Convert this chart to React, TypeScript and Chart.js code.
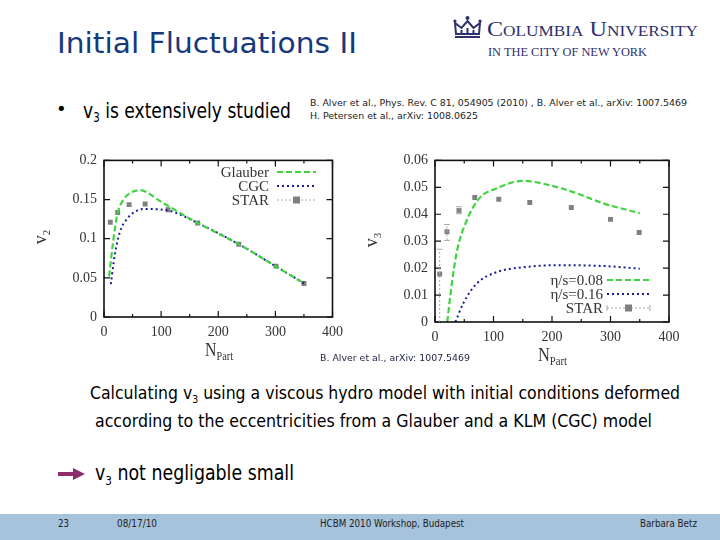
import React, { useEffect, useRef, useLayoutEffect } from "react";
import { Chart, registerables } from "chart.js";
Chart.register(...registerables);

// ---------- Left chart (v2 vs NPart) ----------
const v2GlauberX = [9, 16, 23, 34, 45, 63, 100, 164, 236, 300, 350];
const v2GlauberY = [0.052, 0.096, 0.13, 0.15, 0.158, 0.162, 0.147, 0.12, 0.093, 0.065, 0.043];
const v2CgcX = [12, 19, 28, 40, 51, 69, 112, 164, 236, 300, 350];
const v2CgcY = [0.042, 0.08, 0.109, 0.125, 0.133, 0.138, 0.136, 0.12, 0.093, 0.065, 0.043];
const v2StarX = [11, 24, 44, 72, 112, 164, 236, 301, 350];
const v2StarY = [0.121, 0.1335, 0.1435, 0.1444, 0.137, 0.12, 0.093, 0.065, 0.0427];
const v2Labels = ["Glauber", "CGC", "STAR"];

// ---------- Right chart (v3 vs NPart) ----------
const v3Eta008X = [21, 28, 37.6, 53.6, 76, 105, 150, 196, 242, 287, 350];
const v3Eta008Y = [0, 0.013, 0.0264, 0.0374, 0.046, 0.0496, 0.0524, 0.0508, 0.0478, 0.0441, 0.0404];
const v3Eta016X = [35, 48, 71, 105, 150, 207, 287, 350];
const v3Eta016Y = [0, 0.0068, 0.0142, 0.0185, 0.0203, 0.0211, 0.0208, 0.0198];
const v3StarX = [8, 20.5, 41, 68, 109, 162, 233, 300, 349];
const v3StarY = [0.0178, 0.0335, 0.0414, 0.0462, 0.0456, 0.0444, 0.0425, 0.0381, 0.0332];
const v3StarLo = [0, 0.0303, 0.0402, 0.0462, 0.0456, 0.0444, 0.0425, 0.0381, 0.0332];
const v3StarHi = [0.027, 0.0362, 0.0428, 0.0462, 0.0456, 0.0444, 0.0425, 0.0381, 0.0332];
const v3Labels = ["\u03B7/s=0.08", "\u03B7/s=0.16", "STAR"];

const xMax = 400;
const xStep = 50;
const xLabelStep = 100;

const GREEN = "#3fd43f";
const BLUE = "#1c1c96";
const GRAY = "#808080";
const SERIF = "'Liberation Serif', 'DejaVu Serif', serif";
const SANS = "'DejaVu Sans', sans-serif";

const pts = (xs: number[], ys: number[]) => xs.map((x, i) => ({ x, y: ys[i] }));

const framePlugin = {
  id: "frame",
  afterDatasetsDraw(chart: any) {
    const { ctx, chartArea: a, scales } = chart;
    ctx.save();
    ctx.strokeStyle = "#111";
    ctx.lineWidth = 1.2;
    scales.x.ticks.forEach((t: any) => {
      const px = scales.x.getPixelForValue(t.value);
      const len = t.value % xLabelStep === 0 ? 6 : 3;
      ctx.beginPath();
      ctx.moveTo(px, a.bottom);
      ctx.lineTo(px, a.bottom - len);
      ctx.moveTo(px, a.top);
      ctx.lineTo(px, a.top + len);
      ctx.stroke();
    });
    scales.y.ticks.forEach((t: any) => {
      const py = scales.y.getPixelForValue(t.value);
      ctx.beginPath();
      ctx.moveTo(a.left, py);
      ctx.lineTo(a.left + 6, py);
      ctx.moveTo(a.right, py);
      ctx.lineTo(a.right - 6, py);
      ctx.stroke();
    });
    ctx.lineWidth = 1.6;
    ctx.strokeRect(a.left, a.top, a.right - a.left, a.bottom - a.top);
    ctx.restore();
  },
};

const errorBarPlugin = {
  id: "errbars",
  afterDatasetsDraw(chart: any) {
    const { ctx, scales } = chart;
    chart.data.datasets.forEach((ds: any) => {
      if (!ds.errLo) return;
      ctx.save();
      ctx.strokeStyle = "#aaaaaa";
      ctx.lineWidth = 1;
      ctx.setLineDash([2, 2]);
      ds.data.forEach((p: any, i: number) => {
        const lo = ds.errLo[i];
        const hi = ds.errHi[i];
        if (hi - lo < 1e-6) return;
        const px = scales.x.getPixelForValue(p.x);
        const y0 = scales.y.getPixelForValue(lo);
        const y1 = scales.y.getPixelForValue(hi);
        ctx.beginPath();
        ctx.moveTo(px, y0);
        ctx.lineTo(px, y1);
        ctx.stroke();
        ctx.setLineDash([]);
        ctx.beginPath();
        ctx.moveTo(px - 3, y1);
        ctx.lineTo(px + 3, y1);
        if (lo > 0) {
          ctx.moveTo(px - 3, y0);
          ctx.lineTo(px + 3, y0);
        }
        ctx.stroke();
        ctx.setLineDash([2, 2]);
      });
      ctx.restore();
    });
  },
};

const keyPlugin = {
  id: "key",
  afterDraw(chart: any, _args: any, opts: any) {
    const { ctx } = chart;
    ctx.save();
    ctx.font = `15px ${SERIF}`;
    ctx.fillStyle = "#333";
    ctx.textAlign = "right";
    ctx.textBaseline = "middle";
    chart.data.datasets.forEach((ds: any, i: number) => {
      const y = opts.rows[i];
      ctx.fillText(ds.label, opts.textRight, y + 1);
      if (ds.showLine === false) {
        ctx.strokeStyle = "#aaaaaa";
        ctx.lineWidth = 1;
        ctx.setLineDash([2, 2]);
        ctx.beginPath();
        ctx.moveTo(opts.x0, y);
        ctx.lineTo(opts.x1, y);
        ctx.stroke();
        ctx.setLineDash([]);
        if (opts.caps) {
          ctx.beginPath();
          ctx.moveTo(opts.x0, y - 3);
          ctx.lineTo(opts.x0, y + 3);
          ctx.moveTo(opts.x1, y - 3);
          ctx.lineTo(opts.x1, y + 3);
          ctx.stroke();
        }
        ctx.fillStyle = GRAY;
        const mx = (opts.x0 + opts.x1) / 2;
        ctx.fillRect(mx - 3.5, y - 3.5, 7, 7);
        ctx.fillStyle = "#333";
      } else {
        ctx.strokeStyle = ds.borderColor;
        ctx.lineWidth = ds.borderWidth;
        ctx.setLineDash(ds.borderDash || []);
        ctx.beginPath();
        ctx.moveTo(opts.x0, y);
        ctx.lineTo(opts.x1, y);
        ctx.stroke();
        ctx.setLineDash([]);
      }
    });
    ctx.restore();
  },
};

function makeChart(
  canvas: HTMLCanvasElement,
  datasets: any[],
  yMax: number,
  yStep: number,
  geom: { top: number; right: number; yW: number; xH: number },
  key: any
) {
  return new Chart(canvas, {
    type: "line",
    data: { datasets },
    options: {
      animation: false,
      responsive: false,
      layout: { padding: { top: geom.top, right: geom.right, left: 0, bottom: 0 } },
      scales: {
        x: {
          type: "linear",
          min: 0,
          max: xMax,
          ticks: {
            stepSize: xStep,
            autoSkip: false,
            maxRotation: 0,
            padding: 7,
            color: "#333",
            font: { family: SERIF, size: 14 },
            callback: (v: any) => (v % xLabelStep === 0 ? String(v) : ""),
          },
          grid: { display: false, drawTicks: false },
          border: { display: false },
          afterFit: (s: any) => {
            s.height = geom.xH;
          },
        },
        y: {
          type: "linear",
          min: 0,
          max: yMax,
          ticks: {
            stepSize: yStep,
            padding: 7,
            color: "#333",
            font: { family: SERIF, size: 14 },
            callback: (v: any) => String(Math.round(v * 1000) / 1000),
          },
          grid: { display: false, drawTicks: false },
          border: { display: false },
          afterFit: (s: any) => {
            s.width = geom.yW;
          },
        },
      },
      plugins: {
        legend: { display: false },
        tooltip: { enabled: false },
        key,
      } as any,
    },
    plugins: [framePlugin, errorBarPlugin, keyPlugin],
  });
}

function LeftChart() {
  const ref = useRef<HTMLCanvasElement>(null);
  useEffect(() => {
    const ds = [
      { label: v2Labels[0], data: pts(v2GlauberX, v2GlauberY), borderColor: GREEN, borderWidth: 2.2, borderDash: [6, 3], pointRadius: 0, cubicInterpolationMode: "monotone", fill: false },
      { label: v2Labels[1], data: pts(v2CgcX, v2CgcY), borderColor: BLUE, borderWidth: 2, borderDash: [2, 3], pointRadius: 0, cubicInterpolationMode: "monotone", fill: false },
      { label: v2Labels[2], data: pts(v2StarX, v2StarY), showLine: false, pointStyle: "rect", pointRadius: 3.5, backgroundColor: GRAY, borderColor: GRAY, borderWidth: 0 },
    ];
    const c = makeChart(ref.current!, ds, 0.2, 0.05, { top: 12, right: 17, yW: 84, xH: 53 }, { textRight: 249, x0: 257, x1: 296, rows: [27, 41, 55] });
    return () => c.destroy();
  }, []);
  return <canvas ref={ref} width={330} height={225} style={{ position: "absolute", left: 20, top: 145 }} />;
}

function RightChart() {
  const ref = useRef<HTMLCanvasElement>(null);
  useEffect(() => {
    const ds = [
      { label: v3Labels[0], data: pts(v3Eta008X, v3Eta008Y), borderColor: GREEN, borderWidth: 2.2, borderDash: [6, 3], pointRadius: 0, cubicInterpolationMode: "monotone", fill: false },
      { label: v3Labels[1], data: pts(v3Eta016X, v3Eta016Y), borderColor: BLUE, borderWidth: 2, borderDash: [2, 3], pointRadius: 0, cubicInterpolationMode: "monotone", fill: false },
      { label: v3Labels[2], data: pts(v3StarX, v3StarY), errLo: v3StarLo, errHi: v3StarHi, showLine: false, pointStyle: "rect", pointRadius: 3.5, backgroundColor: GRAY, borderColor: GRAY, borderWidth: 0 },
    ];
    const c = makeChart(ref.current!, ds, 0.06, 0.01, { top: 13, right: 21, yW: 75, xH: 48 }, { textRight: 243, x0: 247, x1: 290, rows: [135, 149, 163], caps: true });
    return () => c.destroy();
  }, []);
  return <canvas ref={ref} width={330} height={225} style={{ position: "absolute", left: 360, top: 145 }} />;
}

function FitText(props: {
  left: number;
  baseline: number;
  size: number;
  width: number;
  family?: string;
  color?: string;
  smallCaps?: boolean;
  children: any;
}) {
  const ref = useRef<HTMLDivElement>(null);
  useLayoutEffect(() => {
    const el = ref.current;
    if (!el) return;
    el.style.transform = "none";
    const w = el.getBoundingClientRect().width;
    if (w > 0) el.style.transform = `scaleX(${props.width / w})`;
  });
  return (
    <div
      ref={ref}
      style={{
        position: "absolute",
        left: props.left,
        top: props.baseline - 0.84 * props.size,
        fontSize: props.size,
        lineHeight: 1,
        fontFamily: props.family || SANS,
        color: props.color || "#000",
        fontVariant: props.smallCaps ? "small-caps" : "normal",
        whiteSpace: "nowrap",
        transformOrigin: "left top",
        display: "inline-block",
      }}
    >
      {props.children}
    </div>
  );
}

const Sub = ({ children, size = "0.6em" }: any) => (
  <span style={{ fontSize: size, position: "relative", top: "0.35em" }}>{children}</span>
);

export default function App() {
  const navy = "#17397c";
  const logo = "#2d2f6e";
  return (
    <div style={{ position: "absolute", left: 0, top: 0, width: 720, height: 540, background: "#fff", overflow: "hidden" }}>
      <FitText left={57} baseline={53} size={29} width={300} color={navy}>Initial Fluctuations II</FitText>

      <svg style={{ position: "absolute", left: 453, top: 15 }} width={29} height={24} viewBox="0 0 29 24">
        <g fill="none" stroke={logo} strokeWidth={2}>
          <path d="M3 19 L2 8 L8.5 13 L14.5 6 L20.5 13 L27 8 L26 19 Z" />
          <line x1={2} y1={22} x2={27} y2={22} />
          <line x1={14.5} y1={13} x2={14.5} y2={19} />
          <line x1={8.5} y1={15} x2={8.5} y2={19} />
          <line x1={20.5} y1={15} x2={20.5} y2={19} />
        </g>
        <circle cx={14.5} cy={3} r={2} fill={logo} />
        <circle cx={2} cy={6} r={1.6} fill={logo} />
        <circle cx={27} cy={6} r={1.6} fill={logo} />
      </svg>
      <FitText left={487} baseline={37} size={21} width={211} family={SERIF} color={logo} smallCaps>Columbia University</FitText>
      <FitText left={488} baseline={56} size={12} width={159} family={SERIF} color={logo}>IN THE CITY OF NEW YORK</FitText>

      <div style={{ position: "absolute", left: 56, top: 100, fontSize: 18, lineHeight: 1, fontFamily: SANS }}>•</div>
      <FitText left={83} baseline={118} size={22} width={208}>
        v<Sub>3</Sub> is extensively studied
      </FitText>
      <FitText left={310} baseline={107} size={9} width={377} color="#222">
        B. Alver et al., Phys. Rev. C 81, 054905 (2010) , B. Alver et al., arXiv: 1007.5469
      </FitText>
      <FitText left={310} baseline={120} size={9} width={168} color="#222">
        H. Petersen et al., arXiv: 1008.0625
      </FitText>

      <LeftChart />
      <RightChart />

      <div style={{ position: "absolute", left: 40, top: 237, transform: "translate(-50%,-50%) rotate(-90deg)", fontFamily: SERIF, fontSize: 18, color: "#333", lineHeight: 1 }}>
        v<Sub>2</Sub>
      </div>
      <div style={{ position: "absolute", left: 371, top: 240, transform: "translate(-50%,-50%) rotate(-90deg)", fontFamily: SERIF, fontSize: 18, color: "#333", lineHeight: 1 }}>
        v<Sub>3</Sub>
      </div>
      <FitText left={205} baseline={356} size={18} width={28} family={SERIF} color="#333">
        N<Sub size="0.65em">Part</Sub>
      </FitText>
      <FitText left={538} baseline={361} size={18} width={29} family={SERIF} color="#333">
        N<Sub size="0.65em">Part</Sub>
      </FitText>
      <FitText left={320} baseline={362} size={9} width={150} color="#1c2040">
        B. Alver et al., arXiv: 1007.5469
      </FitText>

      <FitText left={90} baseline={399} size={18} width={590}>
        Calculating v<Sub>3</Sub> using a viscous hydro model with initial conditions deformed
      </FitText>
      <FitText left={95} baseline={427} size={18} width={557}>
        according to the eccentricities from a Glauber and a KLM (CGC) model
      </FitText>

      <svg style={{ position: "absolute", left: 58, top: 467 }} width={27} height={14} viewBox="0 0 27 14">
        <line x1={0} y1={7} x2={17} y2={7} stroke="#8c2e6a" strokeWidth={4} />
        <polygon points="15,1 27,7 15,13" fill="#8c2e6a" />
      </svg>
      <FitText left={95} baseline={481} size={21} width={199}>
        v<Sub>3</Sub> not negligable small
      </FitText>

      <div style={{ position: "absolute", left: 0, top: 514, width: 720, height: 26, background: "#a6c3dc" }} />
      <FitText left={58} baseline={527} size={10} width={11} color="#222">23</FitText>
      <FitText left={117} baseline={527} size={10} width={40} color="#222">08/17/10</FitText>
      <FitText left={320} baseline={527} size={10} width={144} color="#222">HCBM 2010 Workshop, Budapest</FitText>
      <FitText left={640} baseline={527} size={10} width={57} color="#222">Barbara Betz</FitText>
    </div>
  );
}
